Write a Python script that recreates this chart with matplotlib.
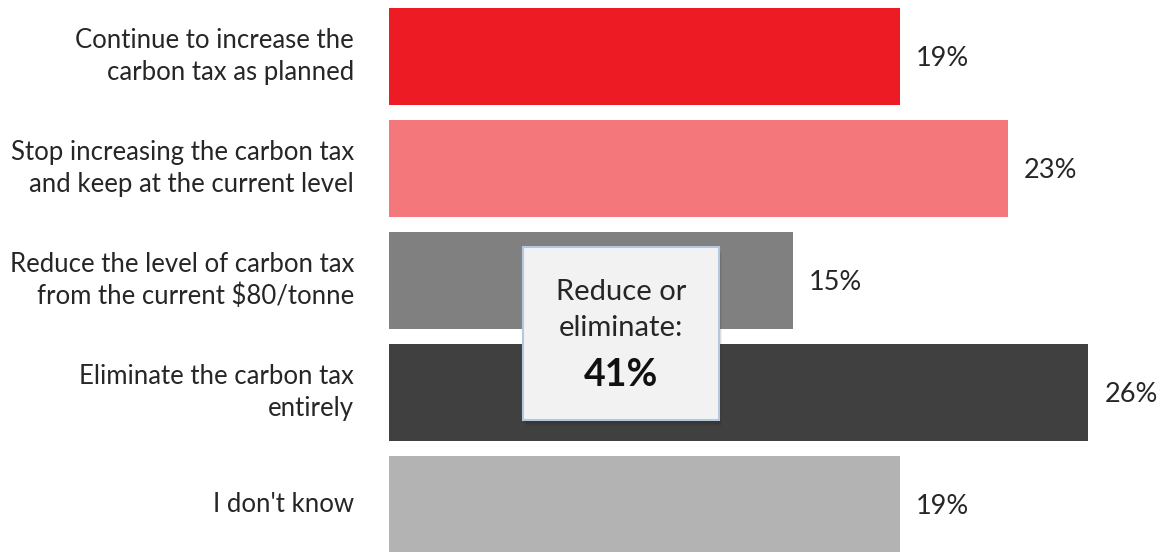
import matplotlib.pyplot as plt
from matplotlib.patches import Rectangle

plt.rcParams['font.family'] = ['Lato', 'DejaVu Sans']

labels = [
    "Continue to increase the\ncarbon tax as planned",
    "Stop increasing the carbon tax\nand keep at the current level",
    "Reduce the level of carbon tax\nfrom the current $80/tonne",
    "Eliminate the carbon tax\nentirely",
    "I don't know",
]
values = [19, 23, 15, 26, 19]
colors = ["#ED1C24", "#F4777B", "#808080", "#404040", "#B3B3B3"]

W, H = 1162, 552
fig = plt.figure(figsize=(W / 100, H / 100), dpi=100)
ax = fig.add_axes([389 / W, 0, 1 - 389 / W, 1])

pitch = 112.0
ymin = -56.5 / pitch
ymax = (H - 56.5) / pitch
pct_px = 26.9
ax.set_xlim(0, (W - 389) / pct_px)
ax.set_ylim(ymax, ymin)

ypos = range(len(values))
ax.barh(ypos, values, height=97 / pitch, color=colors)

for y, v, lab in zip(ypos, values, labels):
    ax.text(v + 0.6, y + 0.02, f"{v}%", va="center", ha="left", fontsize=19.5,
            color="#262626")
    ax.text(-1.3, y, lab, va="center", ha="right", fontsize=18.5,
            color="#262626", linespacing=1.33, clip_on=False)

ax.axis("off")

# callout box summing the two "reduce" options
combined = values[2] + values[3]
bx0, by0, bw, bh = 523, H - 420, 196, 173
for off, a in [(6, 0.05), (4, 0.08), (2, 0.12)]:
    sh = Rectangle(((bx0 + off / 2) / W, (by0 - off) / H), bw / W, bh / H,
                   transform=fig.transFigure, facecolor="#000000", alpha=a,
                   edgecolor="none", zorder=5)
    fig.patches.append(sh)
box = Rectangle((bx0 / W, by0 / H), bw / W, bh / H, transform=fig.transFigure,
                facecolor="#F2F2F2", edgecolor="#B4C7DC", linewidth=1.5,
                zorder=6)
fig.patches.append(box)
cx = (bx0 + bw / 2) / W
fig.text(cx, (H - 310) / H, "Reduce or\neliminate:", ha="center", va="center",
         fontsize=21, color="#262626", linespacing=1.45, zorder=7)
fig.text(cx, (H - 375) / H, f"{combined}%", ha="center", va="center",
         fontsize=27, fontweight="bold", color="#111111", zorder=7)

fig.savefig("out.png", dpi=100)
